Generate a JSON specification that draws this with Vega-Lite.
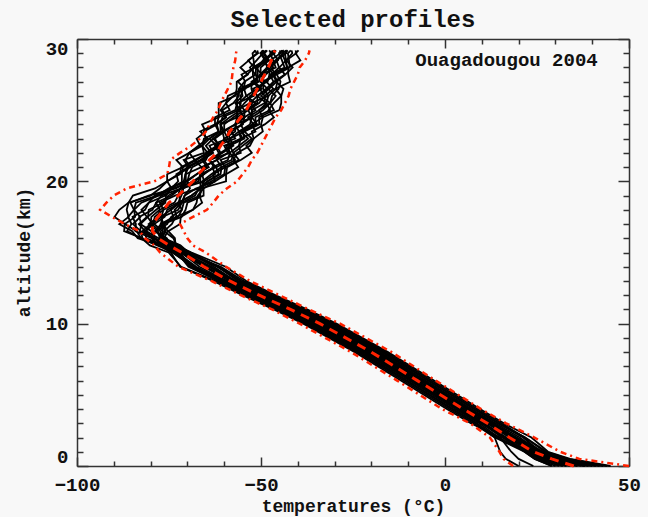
{
  "$schema": "https://vega.github.io/schema/vega-lite/v6.json",
  "width": 552,
  "height": 427,
  "autosize": {"type": "none"},
  "padding": {"left": 77, "top": 39, "right": 19, "bottom": 51},
  "background": "#f8f8f8",
  "config": {
    "view": {"stroke": null},
    "axis": {
      "grid": false,
      "domainColor": "#333333",
      "domainWidth": 1.5,
      "tickColor": "#333333",
      "tickWidth": 1.5,
      "labelFont": "Liberation Mono",
      "labelFontSize": 19,
      "labelFontWeight": "bold",
      "labelColor": "#111111",
      "labelOverlap": false,
      "titleFont": "Liberation Mono",
      "titleFontSize": 18,
      "titleFontWeight": "bold",
      "titleColor": "#111111"
    }
  },
  "title": {"text": "Selected profiles", "font": "Liberation Mono", "fontSize": 24, "fontWeight": "bold", "color": "#111111", "anchor": "middle", "offset": 6},
  "data": {"values": [
    {"a":0,"m":35,"lo":18.5,"hi":50,"p1":43,"p2":29,"p3":38,"p4":32,"p5":45,"p6":35,"p7":24,"p8":40,"p9":33,"p10":36,"p11":31,"p12":41,"p13":20,"p14":37,"p15":34,"p16":39,"p17":30,"p18":42,"p19":33,"p20":38,"p21":44,"p22":32,"p23":36,"p24":29},
    {"a":0.5,"m":29,"lo":15.9,"hi":36.5,"p1":32.8,"p2":24.4,"p3":29.8,"p4":26.2,"p5":34,"p6":28,"p7":20,"p8":31,"p9":26.8,"p10":28.6,"p11":25.6,"p12":31.6,"p13":16.5,"p14":29.2,"p15":27.4,"p16":30.4,"p17":25,"p18":32.2,"p19":26.8,"p20":29.8,"p21":33.4,"p22":26.2,"p23":28.6,"p24":24.4},
    {"a":1,"m":24,"lo":14.8,"hi":31.3,"p1":27.2,"p2":21.6,"p3":25.2,"p4":22.8,"p5":28,"p6":24,"p7":18,"p8":26,"p9":23.2,"p10":24.4,"p11":22.4,"p12":26.4,"p13":15,"p14":24.8,"p15":23.6,"p16":25.6,"p17":22,"p18":26.8,"p19":23.2,"p20":25.2,"p21":27.6,"p22":22.8,"p23":24.4,"p24":21.6},
    {"a":2,"m":17.5,"lo":12.2,"hi":24.3,"p1":21.7,"p2":13.6,"p3":19.4,"p4":15.6,"p5":23.5,"p6":17.5,"p7":15,"p8":21.2,"p9":15.7,"p10":19.2,"p11":13.9,"p12":18.4,"p13":13.5,"p14":21.6,"p15":16.6,"p16":20.3,"p17":14.6,"p18":19.4,"p19":18.7,"p20":16.5,"p21":21.8,"p22":14,"p23":18.4,"p24":15.8},
    {"a":3,"m":11.5,"lo":6.8,"hi":16.6,"p1":14.5,"p2":8.5,"p3":13,"p4":10,"p5":16,"p6":11.5,"p7":7,"p8":14.5,"p9":10,"p10":13,"p11":8.5,"p12":11.5,"p13":7.7,"p14":15.3,"p15":10.7,"p16":13.7,"p17":9.3,"p18":12.3,"p19":13,"p20":10,"p21":14.5,"p22":8.5,"p23":12.3,"p24":10.7},
    {"a":4,"m":5,"lo":-0.8,"hi":9.8,"p1":8,"p2":2,"p3":6.5,"p4":3.5,"p5":9.5,"p6":5,"p7":0.5,"p8":8,"p9":3.5,"p10":6.5,"p11":2,"p12":5,"p13":1.2,"p14":8.8,"p15":4.2,"p16":7.2,"p17":2.8,"p18":5.8,"p19":6.5,"p20":3.5,"p21":8,"p22":2,"p23":5.8,"p24":4.2},
    {"a":6,"m":-7.5,"lo":-13,"hi":-2.5,"p1":-4.5,"p2":-10.5,"p3":-6,"p4":-9,"p5":-3,"p6":-7.5,"p7":-12,"p8":-4.5,"p9":-9,"p10":-6,"p11":-10.5,"p12":-7.5,"p13":-11.3,"p14":-3.7,"p15":-8.3,"p16":-5.3,"p17":-9.7,"p18":-6.7,"p19":-6,"p20":-9,"p21":-4.5,"p22":-10.5,"p23":-6.7,"p24":-8.3},
    {"a":8,"m":-20,"lo":-25.5,"hi":-14.5,"p1":-17,"p2":-23,"p3":-18.5,"p4":-21.5,"p5":-15.5,"p6":-20,"p7":-24.5,"p8":-17,"p9":-21.5,"p10":-18.5,"p11":-23,"p12":-20,"p13":-23.8,"p14":-16.2,"p15":-20.8,"p16":-17.8,"p17":-22.2,"p18":-19.2,"p19":-18.5,"p20":-21.5,"p21":-17,"p22":-23,"p23":-19.2,"p24":-20.8},
    {"a":10,"m":-34,"lo":-39.5,"hi":-28.5,"p1":-31,"p2":-37,"p3":-32.5,"p4":-35.5,"p5":-29.5,"p6":-34,"p7":-38.5,"p8":-31,"p9":-35.5,"p10":-32.5,"p11":-37,"p12":-34,"p13":-37.8,"p14":-30.2,"p15":-34.8,"p16":-31.8,"p17":-36.2,"p18":-33.2,"p19":-32.5,"p20":-35.5,"p21":-31,"p22":-37,"p23":-33.2,"p24":-34.8},
    {"a":11,"m":-42,"lo":-47,"hi":-37,"p1":-39,"p2":-45,"p3":-40.5,"p4":-43.5,"p5":-37.5,"p6":-42,"p7":-46.5,"p8":-39,"p9":-43.5,"p10":-40.5,"p11":-45,"p12":-42,"p13":-45.8,"p14":-38.2,"p15":-42.8,"p16":-39.8,"p17":-44.2,"p18":-41.2,"p19":-40.5,"p20":-43.5,"p21":-39,"p22":-45,"p23":-41.2,"p24":-42.8},
    {"a":12,"m":-50.5,"lo":-55.5,"hi":-45,"p1":-47.5,"p2":-53.5,"p3":-49,"p4":-52,"p5":-46,"p6":-50.5,"p7":-55,"p8":-47.5,"p9":-52,"p10":-49,"p11":-53.5,"p12":-50.5,"p13":-54.3,"p14":-46.7,"p15":-51.3,"p16":-48.3,"p17":-52.7,"p18":-49.7,"p19":-49,"p20":-52,"p21":-47.5,"p22":-53.5,"p23":-49.7,"p24":-51.3},
    {"a":13,"m":-58.5,"lo":-63.5,"hi":-53,"p1":-55.5,"p2":-61.5,"p3":-57,"p4":-60,"p5":-54,"p6":-58.5,"p7":-63,"p8":-55.5,"p9":-60,"p10":-57,"p11":-61.5,"p12":-58.5,"p13":-62.3,"p14":-54.7,"p15":-59.3,"p16":-56.3,"p17":-60.7,"p18":-57.7,"p19":-57,"p20":-60,"p21":-55.5,"p22":-61.5,"p23":-57.7,"p24":-59.3},
    {"a":14,"m":-65.5,"lo":-72.5,"hi":-59.5,"p1":-61.5,"p2":-69.7,"p3":-63.6,"p4":-68.6,"p5":-59.6,"p6":-65.5,"p7":-72,"p8":-61.9,"p9":-67.6,"p10":-62.8,"p11":-69.3,"p12":-65.3,"p13":-71.7,"p14":-60.9,"p15":-66.7,"p16":-61.7,"p17":-68.7,"p18":-64.9,"p19":-63.6,"p20":-68.4,"p21":-61.7,"p22":-68.9,"p23":-64.1,"p24":-68.1},
    {"a":15,"m":-71.5,"lo":-77.4,"hi":-65,"p1":-70,"p2":-72.8,"p3":-71.4,"p4":-73.9,"p5":-68.9,"p6":-72,"p7":-74.5,"p8":-70.1,"p9":-72.9,"p10":-69.7,"p11":-72.2,"p12":-71.7,"p13":-75.1,"p14":-70.8,"p15":-71.6,"p16":-69.1,"p17":-73.5,"p18":-71.3,"p19":-70.9,"p20":-74.1,"p21":-69.8,"p22":-72.1,"p23":-71.1,"p24":-73.7},
    {"a":15.5,"m":-75,"lo":-79,"hi":-68.5,"p1":-72.2,"p2":-77.6,"p3":-74.3,"p4":-76.8,"p5":-73,"p6":-75,"p7":-77.5,"p8":-74.4,"p9":-76,"p10":-71.9,"p11":-76.9,"p12":-74.6,"p13":-80.2,"p14":-73.1,"p15":-75.7,"p16":-73.2,"p17":-76.2,"p18":-75.4,"p19":-75.3,"p20":-76.9,"p21":-73.6,"p22":-76.7,"p23":-73.4,"p24":-78.2},
    {"a":16,"m":-78,"lo":-81.5,"hi":-70,"p1":-76.8,"p2":-79.7,"p3":-76.6,"p4":-82.6,"p5":-73.8,"p6":-77.5,"p7":-83.5,"p8":-75.6,"p9":-78.8,"p10":-76.3,"p11":-78.8,"p12":-77,"p13":-82.4,"p14":-77.2,"p15":-79.4,"p16":-73.4,"p17":-81.2,"p18":-79,"p19":-76.1,"p20":-82.2,"p21":-76.7,"p22":-77.9,"p23":-77.6,"p24":-82.6},
    {"a":16.5,"m":-79.5,"lo":-83,"hi":-71,"p1":-76,"p2":-84.1,"p3":-76.8,"p4":-83.8,"p5":-76.3,"p6":-78,"p7":-85,"p8":-78.7,"p9":-79.8,"p10":-75.4,"p11":-82.9,"p12":-77.4,"p13":-87.2,"p14":-76.1,"p15":-82.2,"p16":-75.2,"p17":-81.5,"p18":-81.6,"p19":-78.8,"p20":-82.7,"p21":-78.6,"p22":-81.2,"p23":-76.7,"p24":-86.4},
    {"a":17,"m":-79.5,"lo":-87,"hi":-72,"p1":-77.2,"p2":-84,"p3":-79,"p4":-87,"p5":-74.2,"p6":-80.5,"p7":-88.5,"p8":-77.2,"p9":-82.8,"p10":-76.5,"p11":-82.5,"p12":-79.8,"p13":-87,"p14":-76.5,"p15":-80,"p16":-72,"p17":-83.2,"p18":-79.2,"p19":-76.5,"p20":-84.8,"p21":-75.5,"p22":-79.5,"p23":-77.2,"p24":-85.2},
    {"a":17.5,"m":-78,"lo":-90.5,"hi":-68.5,"p1":-72.5,"p2":-84.9,"p3":-76.2,"p4":-84.2,"p5":-73.2,"p6":-78,"p7":-86,"p8":-76.8,"p9":-80.7,"p10":-71.6,"p11":-83.1,"p12":-77.1,"p13":-89.8,"p14":-72.9,"p15":-79.8,"p16":-71.8,"p17":-81,"p18":-78.9,"p19":-77.2,"p20":-82.8,"p21":-74.4,"p22":-80.8,"p23":-73.8,"p24":-86.1},
    {"a":18,"m":-76.5,"lo":-93.7,"hi":-64.7,"p1":-71.5,"p2":-81.5,"p3":-75.5,"p4":-84.5,"p5":-68.5,"p6":-77.5,"p7":-86.5,"p8":-72.5,"p9":-80.5,"p10":-70.5,"p11":-79.5,"p12":-76.5,"p13":-88.5,"p14":-73.5,"p15":-77.5,"p16":-68.5,"p17":-82.5,"p18":-76.5,"p19":-74.5,"p20":-84.5,"p21":-71.5,"p22":-78.5,"p23":-74.5,"p24":-84.5},
    {"a":18.5,"m":-75,"lo":-92,"hi":-63,"p1":-71,"p2":-80.5,"p3":-71.5,"p4":-84,"p5":-67.5,"p6":-73.5,"p7":-86,"p8":-71.5,"p9":-76.5,"p10":-70,"p11":-78.5,"p12":-72.5,"p13":-86,"p14":-71.5,"p15":-78.5,"p16":-66,"p17":-80.5,"p18":-77.5,"p19":-72,"p20":-82.5,"p21":-72.5,"p22":-76,"p23":-72.5,"p24":-85.5},
    {"a":19,"m":-72.5,"lo":-90,"hi":-61.5,"p1":-66.5,"p2":-78.9,"p3":-70.7,"p4":-78.2,"p5":-67.2,"p6":-72.5,"p7":-80,"p8":-70.8,"p9":-75.2,"p10":-65.6,"p11":-77.1,"p12":-71.6,"p13":-84.8,"p14":-67.9,"p15":-74.3,"p16":-66.8,"p17":-76,"p18":-73.4,"p19":-72.2,"p20":-77.8,"p21":-68.9,"p22":-75.8,"p23":-68.8,"p24":-80.6},
    {"a":19.5,"m":-70.5,"lo":-86.5,"hi":-59.3,"p1":-66.5,"p2":-74.4,"p3":-67.7,"p4":-75.2,"p5":-65.7,"p6":-72,"p7":-77.5,"p8":-69.3,"p9":-71.7,"p10":-65.6,"p11":-71.6,"p12":-71.1,"p13":-78.8,"p14":-66.9,"p15":-71.8,"p16":-65.8,"p17":-74.5,"p18":-66.9,"p19":-71.2,"p20":-73.8,"p21":-66.4,"p22":-74.3,"p23":-66.3,"p24":-73.1},
    {"a":20,"m":-68.5,"lo":-79,"hi":-56.5,"p1":-64.5,"p2":-72.5,"p3":-62.5,"p4":-71,"p5":-65.5,"p6":-68.5,"p7":-75.5,"p8":-70,"p9":-65.5,"p10":-62.5,"p11":-70.5,"p12":-67,"p13":-75.5,"p14":-63.5,"p15":-71.5,"p16":-66,"p17":-70.5,"p18":-64.5,"p19":-70.5,"p20":-68,"p21":-66.5,"p22":-75.5,"p23":-59.5,"p24":-70},
    {"a":20.5,"m":-67,"lo":-75.5,"hi":-55,"p1":-61.5,"p2":-73,"p3":-59.5,"p4":-70.5,"p5":-66,"p6":-65.5,"p7":-72.5,"p8":-69.5,"p9":-62.5,"p10":-63,"p11":-67.5,"p12":-66.5,"p13":-75.5,"p14":-60,"p15":-71.5,"p16":-63.5,"p17":-70.5,"p18":-61,"p19":-70.5,"p20":-65.5,"p21":-66.5,"p22":-72,"p23":-59.5,"p24":-67.5},
    {"a":21,"m":-65.2,"lo":-75,"hi":-53.5,"p1":-62.2,"p2":-69.7,"p3":-56.2,"p4":-69.7,"p5":-62.7,"p6":-66.2,"p7":-69.2,"p8":-68.7,"p9":-63.2,"p10":-59.7,"p11":-64.2,"p12":-65.7,"p13":-71.2,"p14":-59.7,"p15":-71.2,"p16":-60.7,"p17":-66.2,"p18":-60.7,"p19":-70.2,"p20":-62.7,"p21":-62.2,"p22":-71.7,"p23":-59.2,"p24":-64.7},
    {"a":21.5,"m":-64,"lo":-74.7,"hi":-52.5,"p1":-58,"p2":-71,"p3":-57.5,"p4":-66,"p5":-64,"p6":-62,"p7":-70.5,"p8":-65,"p9":-59,"p10":-61,"p11":-65.5,"p12":-62,"p13":-73,"p14":-56,"p15":-67.5,"p16":-62,"p17":-68,"p18":-57,"p19":-66.5,"p20":-64,"p21":-64,"p22":-68,"p23":-55.5,"p24":-66},
    {"a":22,"m":-62,"lo":-72,"hi":-51,"p1":-57.5,"p2":-65.5,"p3":-56.5,"p4":-65,"p5":-58.5,"p6":-61.5,"p7":-69.5,"p8":-64,"p9":-58.5,"p10":-55.5,"p11":-64.5,"p12":-61,"p13":-69.5,"p14":-57.5,"p15":-64.5,"p16":-59,"p17":-64.5,"p18":-58.5,"p19":-63.5,"p20":-61,"p21":-60.5,"p22":-69.5,"p23":-52.5,"p24":-63},
    {"a":22.5,"m":-61,"lo":-69,"hi":-50,"p1":-58.5,"p2":-66,"p3":-53,"p4":-62,"p5":-59,"p6":-62.5,"p7":-66,"p8":-61,"p9":-59.5,"p10":-56,"p11":-61,"p12":-58,"p13":-66.5,"p14":-55,"p15":-66,"p16":-60,"p17":-61.5,"p18":-56,"p19":-65,"p20":-62,"p21":-57.5,"p22":-67,"p23":-54,"p24":-64},
    {"a":23,"m":-59.5,"lo":-66.6,"hi":-49,"p1":-54.5,"p2":-65.5,"p3":-52,"p4":-64,"p5":-58.5,"p6":-58.5,"p7":-65,"p8":-63,"p9":-55.5,"p10":-55.5,"p11":-60,"p12":-60,"p13":-67.5,"p14":-52.5,"p15":-64,"p16":-55,"p17":-62.5,"p18":-53.5,"p19":-63,"p20":-57,"p21":-58.5,"p22":-64.5,"p23":-52,"p24":-59},
    {"a":23.5,"m":-58.5,"lo":-65,"hi":-48,"p1":-55,"p2":-61.5,"p3":-52.5,"p4":-61,"p5":-54.5,"p6":-59,"p7":-65.5,"p8":-60,"p9":-56,"p10":-51.5,"p11":-60.5,"p12":-57,"p13":-65,"p14":-54.5,"p15":-61.5,"p16":-56,"p17":-60,"p18":-55.5,"p19":-60.5,"p20":-58,"p21":-56,"p22":-66.5,"p23":-49.5,"p24":-60},
    {"a":24,"m":-57,"lo":-64,"hi":-47,"p1":-51,"p2":-62.5,"p3":-49,"p4":-61,"p5":-55.5,"p6":-55,"p7":-62,"p8":-60,"p9":-52,"p10":-52.5,"p11":-57,"p12":-57,"p13":-66,"p14":-50.5,"p15":-62,"p16":-53,"p17":-61,"p18":-51.5,"p19":-61,"p20":-55,"p21":-57,"p22":-62.5,"p23":-50,"p24":-57},
    {"a":24.5,"m":-55.5,"lo":-63,"hi":-46,"p1":-52.5,"p2":-59.5,"p3":-46.5,"p4":-58.5,"p5":-52.5,"p6":-56.5,"p7":-59.5,"p8":-57.5,"p9":-53.5,"p10":-49.5,"p11":-54.5,"p12":-54.5,"p13":-61.5,"p14":-50.5,"p15":-61.5,"p16":-52.5,"p17":-56.5,"p18":-51.5,"p19":-60.5,"p20":-54.5,"p21":-52.5,"p22":-62.5,"p23":-49.5,"p24":-56.5},
    {"a":25,"m":-54,"lo":-61.7,"hi":-44.5,"p1":-49.5,"p2":-60.5,"p3":-48,"p4":-55.5,"p5":-53.5,"p6":-53.5,"p7":-61,"p8":-54.5,"p9":-50.5,"p10":-50.5,"p11":-56,"p12":-51.5,"p13":-61.5,"p14":-46.5,"p15":-57,"p16":-52.5,"p17":-56.5,"p18":-47.5,"p19":-56,"p20":-54.5,"p21":-52.5,"p22":-58.5,"p23":-45,"p24":-56.5},
    {"a":25.5,"m":-53,"lo":-61,"hi":-43.5,"p1":-47.5,"p2":-57.5,"p3":-46.5,"p4":-57,"p5":-50.5,"p6":-51.5,"p7":-59.5,"p8":-56,"p9":-48.5,"p10":-47.5,"p11":-54.5,"p12":-53,"p13":-61.5,"p14":-47.5,"p15":-56.5,"p16":-49,"p17":-56.5,"p18":-48.5,"p19":-55.5,"p20":-51,"p21":-52.5,"p22":-59.5,"p23":-44.5,"p24":-53},
    {"a":26,"m":-52,"lo":-60,"hi":-42.5,"p1":-50,"p2":-56,"p3":-44.5,"p4":-55,"p5":-49,"p6":-54,"p7":-57.5,"p8":-54,"p9":-51,"p10":-46,"p11":-52.5,"p12":-51,"p13":-57,"p14":-47,"p15":-56.5,"p16":-49,"p17":-52,"p18":-48,"p19":-55.5,"p20":-51,"p21":-48,"p22":-59,"p23":-44.5,"p24":-53},
    {"a":26.5,"m":-51,"lo":-59,"hi":-42,"p1":-47.8,"p2":-56,"p3":-43.9,"p4":-55.4,"p5":-50.4,"p6":-51,"p7":-54.3,"p8":-54.6,"p9":-48.6,"p10":-48,"p11":-50.3,"p12":-52.2,"p13":-56.6,"p14":-45.2,"p15":-55.7,"p16":-46.6,"p17":-52.6,"p18":-46,"p19":-54.9,"p20":-48.2,"p21":-49.4,"p22":-54.8,"p23":-46.1,"p24":-49.8},
    {"a":27,"m":-50,"lo":-58,"hi":-41,"p1":-45.8,"p2":-54.5,"p3":-45.9,"p4":-51.4,"p5":-48.9,"p6":-49,"p7":-56.3,"p8":-50.6,"p9":-46.6,"p10":-46.5,"p11":-52.3,"p12":-48.2,"p13":-56.6,"p14":-44.7,"p15":-51.7,"p16":-48.6,"p17":-52.6,"p18":-45.5,"p19":-50.9,"p20":-50.2,"p21":-49.4,"p22":-54.3,"p23":-42.1,"p24":-51.8},
    {"a":27.5,"m":-49,"lo":-57.8,"hi":-40,"p1":-46.8,"p2":-51.5,"p3":-43.4,"p4":-50.9,"p5":-45.9,"p6":-50,"p7":-53.8,"p8":-50.1,"p9":-47.6,"p10":-43.5,"p11":-49.8,"p12":-47.7,"p13":-53.6,"p14":-45.7,"p15":-52.2,"p16":-47.1,"p17":-49.6,"p18":-46.5,"p19":-51.4,"p20":-48.7,"p21":-46.4,"p22":-55.3,"p23":-42.6,"p24":-50.3},
    {"a":28,"m":-48,"lo":-57.5,"hi":-39.5,"p1":-42.8,"p2":-53,"p3":-41.4,"p4":-50.9,"p5":-47.4,"p6":-46,"p7":-51.8,"p8":-50.1,"p9":-43.6,"p10":-45,"p11":-47.8,"p12":-47.7,"p13":-55.6,"p14":-42.2,"p15":-52.2,"p16":-45.1,"p17":-51.6,"p18":-43,"p19":-51.4,"p20":-46.7,"p21":-48.4,"p22":-51.8,"p23":-42.6,"p24":-48.3},
    {"a":28.5,"m":-47.2,"lo":-57,"hi":-38,"p1":-43.5,"p2":-51.2,"p3":-43.1,"p4":-48.6,"p5":-45.6,"p6":-46.7,"p7":-53.5,"p8":-47.8,"p9":-44.3,"p10":-43.2,"p11":-49.5,"p12":-45.4,"p13":-53.3,"p14":-42.4,"p15":-48.9,"p16":-45.8,"p17":-49.3,"p18":-43.2,"p19":-48.1,"p20":-47.4,"p21":-46.1,"p22":-52,"p23":-39.3,"p24":-49},
    {"a":29,"m":-46.5,"lo":-56.8,"hi":-37,"p1":-44.3,"p2":-49.5,"p3":-40.4,"p4":-49.9,"p5":-43.9,"p6":-47.5,"p7":-50.8,"p8":-49.1,"p9":-45.1,"p10":-41.5,"p11":-46.8,"p12":-46.7,"p13":-51.1,"p14":-42.7,"p15":-50.2,"p16":-43.1,"p17":-47.1,"p18":-43.5,"p19":-49.4,"p20":-44.7,"p21":-43.9,"p22":-52.3,"p23":-40.6,"p24":-46.3},
    {"a":29.2,"m":-46.2,"lo":-56.6,"hi":-36.8,"p1":-43,"p2":-49.7,"p3":-40.6,"p4":-49.1,"p5":-44.1,"p6":-46.2,"p7":-51,"p8":-48.3,"p9":-43.8,"p10":-41.7,"p11":-47,"p12":-45.9,"p13":-51.8,"p14":-41.9,"p15":-49.4,"p16":-43.3,"p17":-47.8,"p18":-42.7,"p19":-48.6,"p20":-44.9,"p21":-44.6,"p22":-51.5,"p23":-39.8,"p24":-46.5}
  ]},
  "resolve": {"axis": {"x": "independent", "y": "independent"}},
  "layer": [
    {
      "transform": [{"fold": ["p1","p2","p3","p4","p5","p6","p7","p8","p9","p10","p11","p12","p13","p14","p15","p16","p17","p18","p19","p20","p21","p22","p23","p24"], "as": ["prof", "t"]}],
      "mark": {"type": "line", "color": "#000000", "strokeWidth": 1.8},
      "encoding": {
        "x": {"field": "t", "type": "quantitative",
          "scale": {"domain": [-100, 50], "nice": false, "zero": false},
          "axis": {"orient": "bottom", "values": [-100,-90,-80,-70,-60,-50,-40,-30,-20,-10,0,10,20,30,40,50],
            "labelExpr": "datum.value % 50 === 0 ? datum.label : ''",
            "tickSize": {"condition": {"test": "datum.value % 50 === 0", "value": -9}, "value": -5},
            "labelFlush": false, "labelPadding": 18, "title": "temperatures (°C)",
            "titleX": 276, "titleY": 40, "titleBaseline": "middle", "titleAlign": "center"}},
        "y": {"field": "a", "type": "quantitative",
          "scale": {"domain": [0, 30], "nice": false, "zero": false},
          "axis": {"orient": "left", "values": [0,1,2,3,4,5,6,7,8,9,10,11,12,13,14,15,16,17,18,19,20,21,22,23,24,25,26,27,28,29,30],
            "labelExpr": "datum.value % 10 === 0 ? datum.label : ''",
            "tickSize": {"condition": {"test": "datum.value % 10 === 0", "value": -11}, "value": -6},
            "labelFlush": true, "labelPadding": 20, "title": "altitude(km)",
            "titleX": -53, "titleY": 213, "titleBaseline": "middle", "titleAlign": "center", "titleAngle": -90}},
        "detail": {"field": "prof", "type": "nominal"},
        "order": {"field": "a", "type": "quantitative"}
      }
    },
    {
      "mark": {"type": "line", "color": "#ff2200", "strokeWidth": 2.5, "strokeDash": [6, 4, 2, 4]},
      "encoding": {
        "x": {"field": "lo", "type": "quantitative",
          "axis": {"orient": "top", "values": [-100,-90,-80,-70,-60,-50,-40,-30,-20,-10,0,10,20,30,40,50], "labels": false,
            "tickSize": {"condition": {"test": "datum.value % 50 === 0", "value": -9}, "value": -5}, "title": null}},
        "y": {"field": "a", "type": "quantitative",
          "axis": {"orient": "right", "values": [0,1,2,3,4,5,6,7,8,9,10,11,12,13,14,15,16,17,18,19,20,21,22,23,24,25,26,27,28,29,30], "labels": false,
            "tickSize": {"condition": {"test": "datum.value % 10 === 0", "value": -11}, "value": -6}, "title": null}},
        "order": {"field": "a", "type": "quantitative"}
      }
    },
    {
      "mark": {"type": "line", "color": "#ff2200", "strokeWidth": 2.5, "strokeDash": [6, 4, 2, 4]},
      "encoding": {
        "x": {"field": "hi", "type": "quantitative", "axis": null},
        "y": {"field": "a", "type": "quantitative", "axis": null},
        "order": {"field": "a", "type": "quantitative"}
      }
    },
    {
      "mark": {"type": "line", "color": "#ff2200", "strokeWidth": 3, "strokeDash": [9, 7]},
      "encoding": {
        "x": {"field": "m", "type": "quantitative", "axis": null},
        "y": {"field": "a", "type": "quantitative", "axis": null},
        "order": {"field": "a", "type": "quantitative"}
      }
    },
    {
      "data": {"values": [{"label": "Ouagadougou 2004"}]},
      "mark": {"type": "text", "align": "right", "baseline": "middle", "font": "Liberation Mono", "fontSize": 19, "fontWeight": "bold", "color": "#111111"},
      "encoding": {
        "x": {"datum": 41.5, "type": "quantitative", "axis": null},
        "y": {"datum": 28.5, "type": "quantitative", "axis": null},
        "text": {"field": "label", "type": "nominal"}
      }
    }
  ]
}
